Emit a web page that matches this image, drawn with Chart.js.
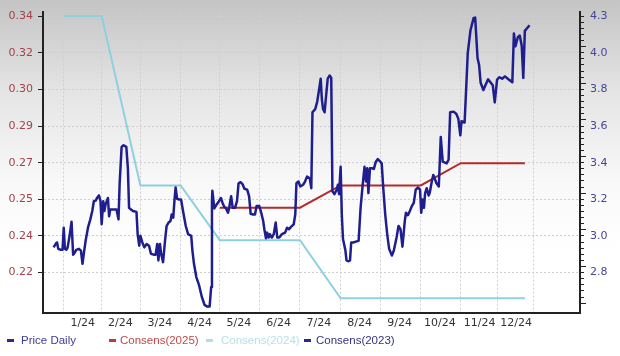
<!DOCTYPE html>
<html>
<head>
<meta charset="utf-8">
<script src="https://cdn.jsdelivr.net/npm/chart.js@4.4.1/dist/chart.umd.min.js"></script>
<style>
    html, body { margin: 0; padding: 0; }
    body {
        width: 620px; height: 356px; overflow: hidden;
        background: linear-gradient(to bottom, #c4c4c4 0px, #e4e4e4 90px, #f8f8f8 180px, #ffffff 250px);
    }
    #wrap { position: relative; width: 620px; height: 356px; }
    #legend { position: absolute; left: 0; top: 332px; width: 620px; height: 16px;
        font-family: "Liberation Sans", Arial, sans-serif; font-size: 11.5px; }
    #legend span { position: absolute; top: 0; line-height: 16px; white-space: nowrap; }
    #legend i { position: absolute; top: 7px; width: 7px; height: 3px; }
</style>
</head>
<body>
<div id="wrap">
    <canvas id="priceChart" width="620" height="356"></canvas>
    <div id="legend">
        <i style="left:7px;background:#2a2a90"></i><span style="left:21px;color:#3b3b9b">Price Daily</span>
        <i style="left:109px;background:#c03a3a"></i><span style="left:120px;color:#c04848">Consens(2025)</span>
        <i style="left:206px;background:#b4dde8"></i><span style="left:221px;color:#b8dfe9">Consens(2024)</span>
        <i style="left:304px;background:#2a2a80"></i><span style="left:316px;color:#33337f">Consens(2023)</span>
    </div>
</div>
<script>
// x values are months since 1/2024 (0 = start of January)
const monthLabels = ['1/24', '2/24', '3/24', '4/24', '5/24', '6/24', '7/24', '8/24', '9/24', '10/24', '11/24', '12/24'];
const gridMonths = [0, 0.96, 1.97, 2.99, 3.99, 5.01, 6.04, 7.08, 8.10, 9.13, 10.15, 11.08, 12.0];
const leftTickLabels = ['0.22', '0.24', '0.25', '0.27', '0.29', '0.30', '0.32', '0.34'];
const rightTickLabels = ['2.8', '3.0', '3.2', '3.4', '3.6', '3.8', '4.0', '4.3'];

// Price Daily
const priceX = [
    -0.26, -0.20, -0.17, -0.14, -0.08, -0.03,
    0.00, 0.03, 0.07, 0.10, 0.15, 0.20,
    0.24, 0.27, 0.32, 0.39, 0.44, 0.48,
    0.51, 0.56, 0.62, 0.68, 0.73, 0.77,
    0.82, 0.85, 0.90, 0.94, 0.97, 1.01,
    1.04, 1.07, 1.13, 1.16, 1.19, 1.26,
    1.35, 1.40, 1.43, 1.48, 1.53, 1.60,
    1.64, 1.67, 1.72, 1.77, 1.86, 1.89,
    1.93, 1.96, 2.01, 2.06, 2.12, 2.18,
    2.23, 2.30, 2.35, 2.39, 2.42, 2.46,
    2.49, 2.54, 2.59, 2.63, 2.68, 2.73,
    2.76, 2.80, 2.83, 2.86, 2.90, 2.95,
    3.00, 3.05, 3.12, 3.18, 3.26, 3.29,
    3.33, 3.39, 3.46, 3.53, 3.60, 3.67,
    3.73, 3.77, 3.79, 3.80, 3.85, 3.91,
    3.97, 4.02, 4.06, 4.11, 4.14, 4.20,
    4.23, 4.28, 4.32, 4.38, 4.43, 4.47,
    4.52, 4.57, 4.62, 4.69, 4.74, 4.78,
    4.84, 4.89, 4.93, 5.00, 5.05, 5.10,
    5.13, 5.17, 5.20, 5.24, 5.27, 5.32,
    5.37, 5.42, 5.46, 5.51, 5.58, 5.66,
    5.71, 5.76, 5.81, 5.88, 5.92, 5.95,
    6.00, 6.05, 6.12, 6.17, 6.22, 6.29,
    6.33, 6.36, 6.43, 6.48, 6.53, 6.57,
    6.60, 6.63, 6.67, 6.70, 6.75, 6.80,
    6.84, 6.87, 6.92, 6.98, 7.01, 7.04,
    7.08, 7.11, 7.14, 7.20, 7.23, 7.28,
    7.32, 7.35, 7.40, 7.49, 7.54, 7.59,
    7.64, 7.69, 7.73, 7.76, 7.79, 7.83,
    7.88, 7.93, 7.98, 8.03, 8.08, 8.13,
    8.17, 8.22, 8.27, 8.32, 8.39, 8.44,
    8.51, 8.56, 8.61, 8.66, 8.72, 8.75,
    8.80, 8.85, 8.90, 8.95, 9.00, 9.06,
    9.11, 9.14, 9.18, 9.21, 9.24, 9.28,
    9.33, 9.36, 9.41, 9.45, 9.53, 9.59,
    9.64, 9.69, 9.79, 9.84, 9.88, 9.97,
    10.04, 10.09, 10.14, 10.17, 10.25, 10.30,
    10.33, 10.40, 10.48, 10.52, 10.58, 10.62,
    10.66, 10.73, 10.79, 10.85, 10.92, 10.97,
    11.02, 11.08, 11.14, 11.21, 11.28, 11.37,
    11.47, 11.51, 11.55, 11.61, 11.66, 11.71,
    11.75, 11.79, 11.84, 11.91
];
const priceValues = [
    0.2318, 0.2336, 0.2341, 0.2311, 0.2307, 0.2307,
    0.2410, 0.2311, 0.2307, 0.2318, 0.2372, 0.2438,
    0.2284, 0.2290, 0.2306, 0.2311, 0.2303, 0.2241,
    0.2284, 0.2349, 0.2410, 0.2449, 0.2488, 0.2534,
    0.2537, 0.2549, 0.2561, 0.2534, 0.2426, 0.2534,
    0.2488, 0.2519, 0.2549, 0.2464, 0.2495, 0.2495,
    0.2495, 0.2449, 0.2618, 0.2788, 0.2796, 0.2788,
    0.2688, 0.2503, 0.2495, 0.2488, 0.2484, 0.2380,
    0.2326, 0.2372, 0.2341, 0.2318, 0.2334, 0.2326,
    0.2288, 0.2284, 0.2284, 0.2334, 0.2257, 0.2334,
    0.2288, 0.2249, 0.2349, 0.2418, 0.2434, 0.2441,
    0.2472, 0.2457, 0.2534, 0.2598, 0.2545, 0.2542,
    0.2542, 0.2488, 0.2418, 0.2380, 0.2372, 0.2303,
    0.2241, 0.2179, 0.2141, 0.2087, 0.2049, 0.2041,
    0.2041, 0.2133, 0.2534, 0.2583, 0.2500, 0.2519,
    0.2534, 0.2549, 0.2526, 0.2506, 0.2503, 0.2480,
    0.2503, 0.2557, 0.2503, 0.2503, 0.2534, 0.2618,
    0.2623, 0.2614, 0.2592, 0.2588, 0.2557, 0.2475,
    0.2472, 0.2472, 0.2511, 0.2511, 0.2480, 0.2441,
    0.2403, 0.2361, 0.2387, 0.2364, 0.2380, 0.2364,
    0.2380, 0.2434, 0.2364, 0.2364, 0.2380, 0.2387,
    0.2410, 0.2403, 0.2414, 0.2426, 0.2472, 0.2618,
    0.2626, 0.2603, 0.2611, 0.2626, 0.2649, 0.2641,
    0.2595, 0.2950, 0.2965, 0.2999, 0.3057, 0.3107,
    0.3011, 0.2965, 0.2950, 0.3011, 0.3107, 0.3122,
    0.3111, 0.2580, 0.2567, 0.2588, 0.2611, 0.2567,
    0.2695, 0.2472, 0.2357, 0.2306, 0.2257, 0.2253,
    0.2257, 0.2341, 0.2341, 0.2346, 0.2349, 0.2503,
    0.2603, 0.2695, 0.2626, 0.2688, 0.2572, 0.2688,
    0.2688, 0.2685, 0.2719, 0.2731, 0.2722, 0.2711,
    0.2595, 0.2472, 0.2380, 0.2311, 0.2280, 0.2303,
    0.2364, 0.2418, 0.2403, 0.2321, 0.2441, 0.2480,
    0.2469, 0.2488, 0.2511, 0.2526, 0.2588, 0.2598,
    0.2588, 0.2480, 0.2542, 0.2503, 0.2572, 0.2595,
    0.2561, 0.2575, 0.2626, 0.2657, 0.2618, 0.2603,
    0.2834, 0.2719, 0.2711, 0.2728, 0.2950, 0.2953,
    0.2942, 0.2919, 0.2842, 0.2908, 0.2902, 0.3103,
    0.3227, 0.3334, 0.3391, 0.3393, 0.3204, 0.3171,
    0.3088, 0.3054, 0.3080, 0.3104, 0.3088, 0.3076,
    0.2996, 0.3103, 0.3114, 0.3107, 0.3118, 0.3105,
    0.3091, 0.3319, 0.3259, 0.3301, 0.3309, 0.3261,
    0.3111, 0.3331, 0.3342, 0.3357
];

// Consensus EPS estimates (right axis)
const cons2025X = [3.99, 6.04, 7.08, 9.13, 10.15, 11.79];
const cons2025Values = [3.18, 3.18, 3.31, 3.31, 3.44, 3.44];
const cons2024X = [0, 0.97, 1.96, 2.99, 3.99, 6.04, 7.08, 11.79];
const cons2024Values = [4.30, 4.30, 3.31, 3.31, 2.99, 2.99, 2.65, 2.65];

const toPoints = (xs, ys) => xs.map((x, i) => ({ x: x, y: ys[i] }));

const tickFont = { family: 'DejaVu Sans', size: 11 };
const gridColor = '#cfcfcf';
const axisColor = '#222';

new Chart(document.getElementById('priceChart'), {
    type: 'line',
    data: {
        datasets: [
            {
                label: 'Price Daily',
                data: toPoints(priceX, priceValues),
                yAxisID: 'y',
                borderColor: '#1e1e8e',
                borderWidth: 2.5,
                borderJoinStyle: 'round'
            },
            {
                label: 'Consens(2025)',
                data: toPoints(cons2025X, cons2025Values),
                yAxisID: 'y1',
                borderColor: '#b52a2a',
                borderWidth: 2
            },
            {
                label: 'Consens(2024)',
                data: toPoints(cons2024X, cons2024Values),
                yAxisID: 'y1',
                borderColor: '#8fd0e0',
                borderWidth: 2
            }
        ]
    },
    options: {
        responsive: false,
        animation: false,
        layout: { padding: { top: 8, left: 0, right: 0, bottom: 0 } },
        elements: { point: { radius: 0 }, line: { tension: 0 } },
        plugins: { legend: { display: false }, tooltip: { enabled: false } },
        scales: {
            x: {
                type: 'linear',
                min: -0.53,
                max: 13.2,
                afterBuildTicks: axis => { axis.ticks = gridMonths.map(v => ({ value: v })); },
                afterFit: axis => { axis.height = 43; },
                ticks: {
                    autoSkip: false,
                    maxRotation: 0,
                    labelOffset: 19,
                    padding: 4,
                    color: '#333',
                    font: tickFont,
                    callback: (v, i) => monthLabels[i] || ''
                },
                grid: { color: gridColor, drawTicks: false },
                border: { color: axisColor, width: 2, dash: [2, 2] }
            },
            y: {
                position: 'left',
                min: 0.2011,
                max: 0.3421,
                afterBuildTicks: axis => {
                    axis.ticks = leftTickLabels.map((_, k) => ({ value: 0.22 + k * 0.12 / 7 }));
                },
                afterFit: axis => { axis.width = 43; },
                ticks: {
                    autoSkip: false,
                    padding: 5,
                    color: '#a4404a',
                    font: tickFont,
                    callback: (v, i) => leftTickLabels[i]
                },
                grid: { color: gridColor, tickColor: axisColor, tickLength: 5 },
                border: { color: axisColor, width: 2, dash: [2, 2] }
            },
            y1: {
                position: 'right',
                min: 2.564,
                max: 4.326,
                afterBuildTicks: axis => {
                    const t = [];
                    for (let j = -6; j <= 42; j++) t.push({ value: 2.8 + j * 1.5 / 42 });
                    axis.ticks = t;
                },
                afterFit: axis => { axis.width = 40; },
                ticks: {
                    autoSkip: false,
                    padding: 4,
                    color: '#45459a',
                    font: tickFont,
                    callback: (v, i) => ((i - 6) % 6 === 0 ? rightTickLabels[(i - 6) / 6] : '')
                },
                grid: {
                    drawOnChartArea: false,
                    tickColor: axisColor,
                    tickLength: 6,
                    tickWidth: 1,
                    tickBorderDash: ctx => ((ctx.index - 6) % 6 === 0 ? [] : [3, 20])
                },
                border: { color: axisColor, width: 2 }
            }
        }
    }
});
</script>
</body>
</html>
